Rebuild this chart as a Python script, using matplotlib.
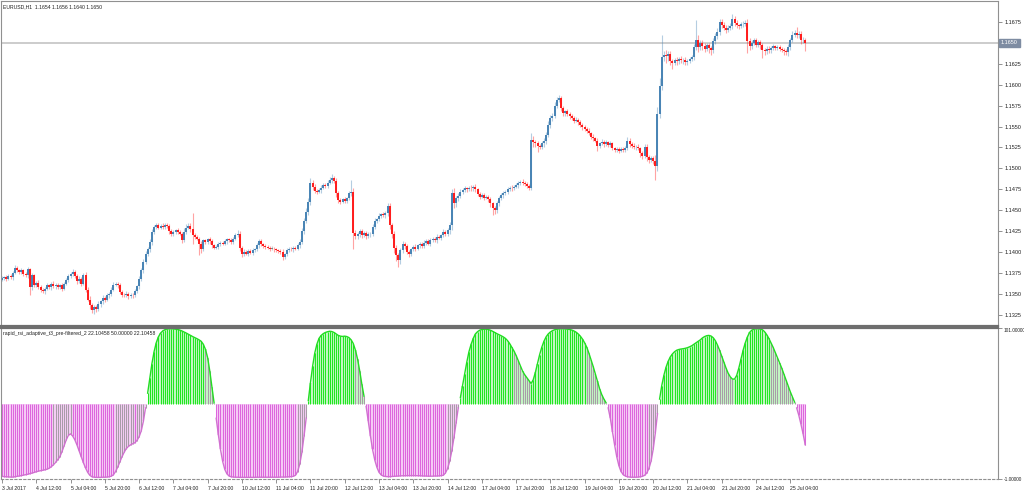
import numpy as np
import matplotlib
matplotlib.use("Agg")
import matplotlib.pyplot as plt

# ---- data (EURUSD H1, 3 Jul 20:00 .. 25 Jul 11:00 2017)
symbol_title = "EURUSD,H1  1.1654 1.1656 1.1640 1.1650"
indicator_title = "rapid_rsi_adaptive_t3_pre-filtered_2 22.10458 50.00000 22.10458"

first_open = 1.1367
close = [
    1.1369, 1.1370, 1.1368, 1.1371, 1.1370, 1.1375, 1.1381, 1.1378, 1.1376, 1.1378, 1.1374, 1.1372, 1.1379, 1.1358, 1.1372, 1.1361,
    1.1363, 1.1358, 1.1355, 1.1353, 1.1356, 1.1360, 1.1358, 1.1362, 1.1359, 1.1361, 1.1358, 1.1360, 1.1356, 1.1362, 1.1367, 1.1371,
    1.1374, 1.1376, 1.1371, 1.1365, 1.1368, 1.1362, 1.1372, 1.1355, 1.1343, 1.1336, 1.1331, 1.1334, 1.1332, 1.1338, 1.1341, 1.1345,
    1.1343, 1.1348, 1.1350, 1.1355, 1.1361, 1.1362, 1.1360, 1.1352, 1.1349, 1.1348, 1.1350, 1.1347, 1.1349, 1.1348, 1.1353, 1.1359,
    1.1368, 1.1378, 1.1388, 1.1398, 1.1403, 1.1412, 1.1424, 1.1430, 1.1432, 1.1429, 1.1431, 1.1430, 1.1432, 1.1431, 1.1425, 1.1421,
    1.1424, 1.1426, 1.1424, 1.1422, 1.1414, 1.1424, 1.1429, 1.1431, 1.1427, 1.1420, 1.1418, 1.1416, 1.1410, 1.1404, 1.1414, 1.1412,
    1.1415, 1.1413, 1.1408, 1.1405, 1.1406, 1.1409, 1.1411, 1.1410, 1.1413, 1.1415, 1.1414, 1.1412, 1.1416, 1.1420, 1.1422, 1.1405,
    1.1398, 1.1400, 1.1398, 1.1401, 1.1399, 1.1402, 1.1403, 1.1408, 1.1413, 1.1409, 1.1407, 1.1406, 1.1405, 1.1404, 1.1404, 1.1403,
    1.1402, 1.1401, 1.1400, 1.1394, 1.1397, 1.1402, 1.1404, 1.1403, 1.1405, 1.1404, 1.1408, 1.1412, 1.1425, 1.1437, 1.1448, 1.1460,
    1.1482, 1.1478, 1.1473, 1.1472, 1.1474, 1.1477, 1.1480, 1.1479, 1.1483, 1.1486, 1.1488, 1.1485, 1.1470, 1.1462, 1.1460, 1.1463,
    1.1461, 1.1464, 1.1470, 1.1472, 1.1423, 1.1419, 1.1421, 1.1425, 1.1420, 1.1423, 1.1419, 1.1421, 1.1422, 1.1430, 1.1437, 1.1439,
    1.1443, 1.1445, 1.1444, 1.1446, 1.1455, 1.1432, 1.1422, 1.1405, 1.1396, 1.1390, 1.1402, 1.1410, 1.1407, 1.1400, 1.1398, 1.1403,
    1.1406, 1.1404, 1.1408, 1.1410, 1.1407, 1.1411, 1.1413, 1.1410, 1.1414, 1.1416, 1.1414, 1.1418, 1.1417, 1.1420, 1.1424, 1.1422,
    1.1426, 1.1432, 1.1470, 1.1458, 1.1464, 1.1467, 1.1472, 1.1474, 1.1476, 1.1475, 1.1477, 1.1476, 1.1478, 1.1475, 1.1469, 1.1466,
    1.1468, 1.1465, 1.1466, 1.1463, 1.1458, 1.1452, 1.1450, 1.1458, 1.1464, 1.1468, 1.1470, 1.1472, 1.1475, 1.1477, 1.1476, 1.1478,
    1.1480, 1.1482, 1.1484, 1.1483, 1.1481, 1.1479, 1.1477, 1.1534, 1.1531, 1.1530, 1.1527, 1.1526, 1.1530, 1.1533, 1.1540, 1.1552,
    1.1560, 1.1563, 1.1575, 1.1582, 1.1584, 1.1572, 1.1566, 1.1568, 1.1565, 1.1562, 1.1560, 1.1557, 1.1558, 1.1555, 1.1552, 1.1549,
    1.1547, 1.1545, 1.1542, 1.1538, 1.1536, 1.1533, 1.1527, 1.1530, 1.1532, 1.1529, 1.1531, 1.1528, 1.1530, 1.1524, 1.1522, 1.1523,
    1.1521, 1.1523, 1.1522, 1.1524, 1.1533, 1.1529, 1.1527, 1.1525, 1.1526, 1.1524, 1.1518, 1.1515, 1.1526, 1.1514, 1.1510, 1.1512,
    1.1509, 1.1503, 1.1565, 1.1598, 1.1633, 1.1636, 1.1634, 1.1637, 1.1628, 1.1626, 1.1630, 1.1628, 1.1631, 1.1629, 1.1630, 1.1627,
    1.1628, 1.1631, 1.1633, 1.1645, 1.1654, 1.1645, 1.1650, 1.1646, 1.1643, 1.1647, 1.1644, 1.1641, 1.1652, 1.1658, 1.1663, 1.1675,
    1.1671, 1.1668, 1.1665, 1.1668, 1.1670, 1.1679, 1.1674, 1.1671, 1.1670, 1.1672, 1.1673, 1.1674, 1.1652, 1.1646, 1.1650, 1.1653,
    1.1648, 1.1651, 1.1647, 1.1642, 1.1640, 1.1643, 1.1641, 1.1644, 1.1646, 1.1644, 1.1645, 1.1643, 1.1641, 1.1640, 1.1639, 1.1645,
    1.1653, 1.1660, 1.1662, 1.1659, 1.1661, 1.1653, 1.1654, 1.1650,
]

# shadow lengths in pips above / below the body
wick_hi = [
    2, 1, 2, 2, 3, 2, 3, 2, 2, 3, 2, 2, 3, 2, 3, 2,
    2, 3, 2, 2, 2, 3, 2, 2, 3, 2, 2, 2, 3, 2, 2, 3,
    2, 3, 2, 2, 3, 2, 3, 4, 3, 4, 3, 2, 3, 3, 2, 3,
    2, 3, 2, 3, 3, 2, 2, 3, 2, 2, 3, 2, 2, 2, 3, 2,
    3, 3, 4, 3, 3, 4, 3, 2, 3, 2, 2, 3, 2, 3, 2, 3,
    2, 2, 3, 2, 2, 5, 4, 3, 3, 20, 3, 2, 2, 3, 2, 2,
    2, 3, 2, 2, 2, 3, 2, 2, 3, 2, 2, 3, 2, 3, 4, 3,
    2, 3, 2, 2, 2, 3, 2, 3, 3, 2, 2, 2, 2, 2, 3, 2,
    2, 2, 2, 3, 2, 3, 2, 2, 2, 2, 3, 3, 4, 4, 5, 5,
    6, 4, 3, 2, 3, 3, 3, 2, 3, 4, 5, 3, 3, 3, 2, 2,
    3, 2, 3, 14, 4, 3, 3, 2, 3, 2, 2, 3, 2, 3, 3, 2,
    3, 2, 3, 3, 4, 3, 3, 3, 3, 3, 3, 3, 2, 3, 2, 2,
    2, 3, 2, 2, 2, 3, 2, 2, 3, 2, 2, 3, 2, 2, 3, 2,
    3, 4, 5, 6, 3, 3, 3, 2, 3, 2, 2, 3, 2, 3, 2, 3,
    2, 3, 2, 2, 3, 2, 3, 3, 3, 2, 3, 2, 3, 2, 3, 2,
    2, 3, 2, 3, 2, 3, 2, 8, 5, 3, 3, 2, 3, 3, 4, 4,
    4, 3, 4, 3, 4, 3, 3, 2, 3, 2, 3, 2, 3, 2, 3, 2,
    3, 2, 3, 2, 3, 2, 3, 2, 3, 2, 3, 2, 3, 2, 2, 3,
    2, 3, 2, 3, 4, 3, 2, 3, 2, 3, 2, 3, 3, 3, 2, 3,
    3, 7, 8, 10, 26, 4, 5, 3, 3, 3, 2, 3, 2, 3, 2, 3,
    3, 2, 3, 4, 23, 5, 4, 3, 4, 3, 3, 2, 4, 4, 5, 4,
    3, 4, 3, 3, 4, 6, 3, 3, 2, 3, 3, 3, 4, 4, 3, 3,
    3, 2, 3, 3, 2, 3, 3, 2, 3, 2, 3, 3, 2, 3, 3, 4,
    3, 4, 3, 7, 3, 3, 3, 2,
]
wick_lo = [
    2, 2, 3, 2, 2, 3, 2, 2, 3, 2, 3, 2, 3, 10, 3, 3,
    3, 2, 3, 2, 3, 2, 2, 3, 2, 3, 2, 2, 3, 2, 2, 3,
    2, 3, 2, 3, 2, 3, 2, 3, 2, 4, 4, 5, 4, 3, 4, 3,
    3, 2, 3, 3, 2, 2, 3, 2, 3, 2, 2, 3, 2, 3, 2, 2,
    3, 3, 3, 2, 3, 3, 4, 2, 3, 2, 2, 3, 2, 2, 3, 2,
    2, 3, 2, 2, 3, 2, 3, 2, 3, 10, 3, 2, 14, 5, 3, 2,
    2, 3, 3, 2, 2, 3, 2, 2, 2, 3, 2, 2, 3, 2, 2, 4,
    4, 3, 2, 3, 2, 3, 2, 2, 3, 2, 2, 2, 2, 3, 2, 3,
    2, 2, 3, 4, 3, 2, 2, 2, 3, 2, 2, 3, 3, 3, 3, 4,
    4, 4, 3, 3, 2, 3, 2, 3, 2, 2, 3, 3, 4, 3, 3, 2,
    3, 2, 2, 3, 19, 4, 3, 3, 3, 2, 3, 2, 3, 3, 2, 3,
    2, 3, 2, 3, 3, 4, 5, 6, 7, 8, 4, 3, 4, 3, 4, 3,
    2, 3, 2, 3, 2, 2, 3, 2, 3, 2, 2, 3, 2, 3, 2, 3,
    3, 4, 6, 5, 4, 3, 2, 3, 2, 3, 2, 3, 3, 3, 2, 3,
    2, 3, 2, 3, 4, 8, 5, 3, 3, 2, 3, 2, 3, 2, 3, 2,
    2, 3, 2, 3, 2, 3, 3, 3, 5, 4, 8, 3, 3, 4, 4, 3,
    4, 3, 3, 3, 3, 4, 3, 3, 2, 3, 2, 3, 2, 3, 2, 3,
    2, 3, 2, 3, 3, 2, 6, 3, 2, 3, 2, 3, 3, 2, 3, 3,
    3, 2, 3, 3, 2, 3, 3, 2, 3, 2, 4, 4, 3, 5, 4, 3,
    4, 17, 6, 5, 4, 5, 8, 6, 5, 7, 3, 5, 3, 3, 4, 3,
    3, 2, 3, 3, 4, 6, 3, 5, 4, 3, 6, 5, 3, 3, 3, 3,
    3, 3, 3, 2, 3, 3, 4, 3, 3, 2, 3, 3, 14, 5, 3, 3,
    3, 3, 4, 10, 4, 3, 3, 3, 2, 3, 3, 3, 2, 4, 4, 5,
    3, 2, 3, 3, 3, 4, 3, 10,
]

rsi = [
    0.8, 0.6, 0.5, 0.4, 0.3, 0.3, 0.5, 0.8, 1.0, 1.3, 1.6, 1.9, 2.2, 2.6, 3.0, 3.4,
    3.9, 4.3, 4.6, 4.9, 5.2, 5.6, 6.3, 7.3, 8.6, 10.2, 12.0, 14.0, 17.5, 21.5, 25.5, 28.5,
    29.5, 28.0, 25.5, 22.0, 18.0, 14.0, 10.0, 6.5, 3.5, 1.5, 0.5, 0.2, 0.1, 0.1, 0.1, 0.2,
    0.2, 0.3, 0.5, 0.9, 1.8, 4.0, 7.0, 10.5, 14.0, 17.0, 19.5, 21.0, 22.0, 22.8, 23.5, 25.0,
    27.5, 31.5, 38.0, 47.0, 57.0, 67.0, 77.0, 85.0, 91.0, 95.0, 97.5, 99.0, 99.8, 100.3, 100.5, 100.5,
    100.4, 100.2, 100.0, 99.6, 99.0, 98.3, 97.6, 96.8, 96.0, 95.2, 94.5, 93.8, 93.0, 92.0, 90.0, 86.5,
    81.0, 72.0, 61.0, 50.5, 40.0, 29.0, 19.0, 11.0, 5.5, 2.5, 1.0, 0.5, 0.3, 0.2, 0.2, 0.1,
    0.1, 0.1, 0.1, 0.1, 0.1, 0.1, 0.1, 0.2, 0.2, 0.2, 0.2, 0.2, 0.2, 0.2, 0.2, 0.2,
    0.2, 0.2, 0.3, 0.3, 0.3, 0.4, 0.5, 0.6, 0.8, 1.5, 4.0, 9.0, 17.0, 28.0, 40.0, 52.0,
    64.0, 75.0, 84.0, 90.0, 94.0, 96.0, 97.2, 98.0, 98.5, 98.8, 98.6, 98.0, 97.0, 96.0, 95.5, 95.3,
    95.5, 95.2, 94.5, 93.0, 90.5, 86.0, 80.0, 72.0, 63.0, 55.0, 48.0, 38.0, 28.0, 19.0, 12.0, 7.0,
    3.5, 1.8, 1.0, 0.7, 0.6, 0.6, 0.7, 0.8, 0.9, 1.0, 1.1, 1.2, 1.2, 1.3, 1.3, 1.3,
    1.3, 1.3, 1.2, 1.2, 1.1, 1.0, 1.0, 0.9, 0.9, 0.9, 1.0, 1.0, 1.1, 1.3, 1.5, 3.0,
    6.0, 11.0, 18.0, 27.0, 37.0, 47.0, 54.0, 62.0, 70.0, 78.0, 85.0, 90.0, 94.0, 97.0, 98.5, 99.5,
    100.0, 100.2, 100.2, 100.0, 99.5, 98.8, 98.0, 97.2, 96.5, 95.8, 95.0, 94.0, 92.5, 90.5, 88.0, 85.5,
    82.5, 79.0, 75.5, 72.0, 69.5, 67.5, 65.5, 63.5, 66.0, 71.0, 77.0, 83.0, 88.0, 92.0, 95.0, 97.0,
    98.3, 99.2, 99.8, 100.2, 100.4, 100.5, 100.5, 100.4, 100.2, 100.0, 99.6, 99.0, 98.2, 97.0, 95.5, 93.5,
    91.0, 88.0, 84.0, 79.5, 75.0, 70.0, 65.0, 60.0, 56.0, 53.0, 50.5, 47.0, 40.0, 31.0, 22.0, 14.0,
    8.0, 4.0, 2.0, 1.0, 0.5, 0.3, 0.2, 0.2, 0.2, 0.3, 0.5, 0.8, 1.5, 3.0, 6.0, 11.0,
    19.0, 30.0, 43.0, 53.0, 62.0, 69.0, 74.5, 78.5, 81.5, 83.5, 85.0, 86.0, 86.5, 86.8, 87.0, 87.3,
    87.7, 88.3, 89.0, 90.0, 91.0, 92.0, 93.0, 94.3, 95.2, 95.8, 96.0, 95.6, 94.5, 92.5, 89.5, 86.0,
    82.0, 78.0, 74.0, 70.5, 68.0, 66.5, 66.5, 69.0, 74.0, 80.0, 86.0, 91.0, 95.0, 98.0, 99.5, 100.2,
    100.5, 100.5, 100.3, 99.8, 98.5, 96.5, 94.0, 91.0, 88.0, 84.5, 81.0, 77.5, 74.0, 70.0, 66.0, 62.0,
    58.0, 54.5, 51.0, 47.0, 42.0, 36.0, 29.5, 22.10458,
]
rsi_level = 50.0

date_labels = ["3 Jul 2017", "4 Jul 12:00", "5 Jul 04:00", "5 Jul 20:00", "6 Jul 12:00",
               "7 Jul 04:00", "7 Jul 20:00", "10 Jul 12:00", "11 Jul 04:00", "11 Jul 20:00",
               "12 Jul 12:00", "13 Jul 04:00", "13 Jul 20:00", "14 Jul 12:00", "17 Jul 04:00",
               "17 Jul 20:00", "18 Jul 12:00", "19 Jul 04:00", "19 Jul 20:00", "20 Jul 12:00",
               "21 Jul 04:00", "21 Jul 20:00", "24 Jul 12:00", "25 Jul 04:00"]
bars_per_label = 16

price_ticks = [1.1325, 1.1350, 1.1375, 1.1400, 1.1425, 1.1450, 1.1475, 1.1500,
               1.1525, 1.1550, 1.1575, 1.1600, 1.1625, 1.1675]
last_price = 1.1650

# ---- derived candle arrays
c = np.array(close)
o = np.concatenate([[first_open], c[:-1]])
hi = np.maximum(o, c) + np.array(wick_hi) * 1e-4
lo = np.minimum(o, c) - np.array(wick_lo) * 1e-4
x = np.arange(len(c))

BULL, BEAR, DOJI = "#4682B4", "#FF1A1A", "#808080"
cols = np.where(c > o, BULL, np.where(c < o, BEAR, DOJI))

# ---- layout in pixels of the 1024x492 screenshot
W, H = 1024, 492
def box(x0, y0, x1, y1):
    return [x0 / W, 1 - y1 / H, (x1 - x0) / W, (y1 - y0) / H]

plt.rcParams["font.family"] = ["Liberation Sans", "DejaVu Sans"]
FS = 3.7        # dates / titles
FS_PRICE = 4.0  # right-hand scale
TXT = "#202020"

fig = plt.figure(figsize=(W / 100, H / 100), dpi=100)
fig.patch.set_facecolor("white")
ax = fig.add_axes(box(1, 1, 998, 326))
ax2 = fig.add_axes(box(1, 328, 998, 479), sharex=ax)

px_per_bar = 2.142
ax.set_xlim(-1 / px_per_bar, (998 - 2) / px_per_bar)

# price panel
ax.vlines(x, lo, hi, colors=cols, lw=0.8, alpha=0.4)
body_lo = np.minimum(o, c)
body_hi = np.maximum(np.maximum(o, c), body_lo + 0.00004)
ax.vlines(x, body_lo, body_hi, colors=cols, lw=1.4)
ax.axhline(last_price, color="#C8C8C8", lw=1.3, zorder=0)

ax.set_ylim(1.13114, 1.17001)
ax.yaxis.tick_right()
ax.set_yticks(price_ticks)
ax.set_yticklabels([f"{p:.4f}" for p in price_ticks])
ax.tick_params(axis="y", length=3, width=0.6, color="#808080", labelsize=FS_PRICE,
               pad=1.5, labelcolor=TXT)
ax.tick_params(axis="x", bottom=False, labelbottom=False)
ax.annotate(f"{last_price:.4f}", xy=(1.0, last_price), xycoords=("axes fraction", "data"),
            xytext=(2.2, 0), textcoords="offset points", fontsize=FS_PRICE, color="white",
            va="center", ha="left",
            bbox=dict(boxstyle="square,pad=0.3", fc="#7E8CA2", ec="#7E8CA2"))
for s in ax.spines.values():
    s.set_color("#909090")
    s.set_linewidth(0.8)
ax.spines["bottom"].set_color("#6E6E6E")
ax.spines["bottom"].set_linewidth(1.6)

# indicator panel: histogram around the 50 level
v = np.array(rsi)
d3 = v - np.concatenate([v[:1].repeat(3), v[:-3]])
GREEN, VIOLET, GRAY = "#22E622", "#DD66DD", "#A89CA8"
bar_cols = []
for val, d in zip(v, d3):
    if val >= rsi_level:
        bar_cols.append(GRAY if d < -6 else GREEN)
    else:
        bar_cols.append(GRAY if d > 2.5 else VIOLET)
up_mask = v >= rsi_level
ax2.fill_between(x, rsi_level, v, where=up_mask, color="#C4F7C4", lw=0, step="mid")
ax2.fill_between(x, rsi_level, v, where=~up_mask, color="#F6CDF6", lw=0, step="mid")
ax2.vlines(x, rsi_level, v, colors=bar_cols, lw=0.75)
ax2.plot(x, np.where(up_mask, v, np.nan), color="#22DD22", lw=1.0)
ax2.plot(x, np.where(~up_mask, v, np.nan), color="#D070D0", lw=1.0)

ax2.set_ylim(-1, 101)
ax2.yaxis.tick_right()
ax2.set_yticks([101, -1])
ax2.set_yticklabels(["101.00000", "-1.00000"])
ax2.tick_params(axis="y", length=3, width=0.6, color="#808080", labelsize=3.4,
                pad=1.0, labelcolor=TXT)
ax2.get_yticklabels()[0].set_verticalalignment("top")

label_bars = np.arange(len(date_labels)) * bars_per_label
ax2.set_xticks(label_bars)
ax2.set_xticklabels(date_labels, ha="left")
ax2.tick_params(axis="x", length=3, width=0.6, color="#808080", labelsize=FS,
                pad=1.8, labelcolor=TXT)

for s in ax2.spines.values():
    s.set_color("#909090")
    s.set_linewidth(0.8)
ax2.spines["top"].set_color("#6E6E6E")
ax2.spines["top"].set_linewidth(1.6)
ax2.spines["bottom"].set_linestyle((0, (2, 2)))

fig.text(3 / W, 1 - 7 / H, symbol_title, fontsize=FS, va="center", ha="left", color=TXT)
fig.text(3 / W, 1 - 334 / H, indicator_title, fontsize=FS, va="center", ha="left", color=TXT)

fig.savefig("out.png", dpi=100, facecolor="white")
